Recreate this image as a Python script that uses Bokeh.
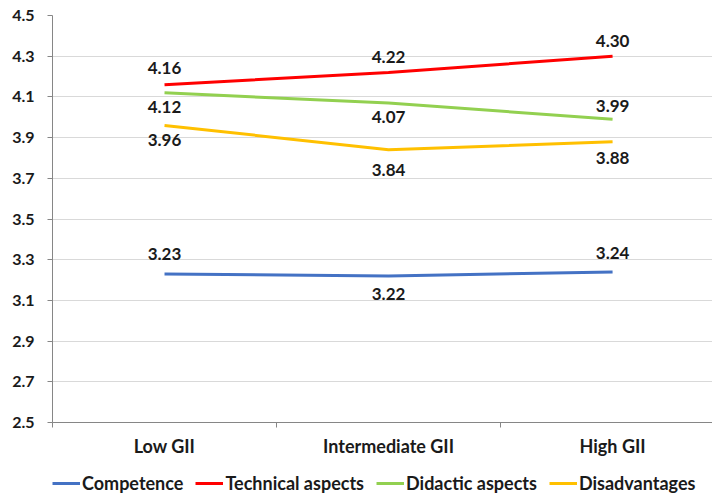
from bokeh.plotting import figure
from bokeh.layouts import column
from bokeh.models import FixedTicker, Legend, LegendItem, ColumnDataSource, Range1d
from bokeh.core.properties import value
from bokeh.embed import file_html
from bokeh.resources import INLINE

categories = ["Low GII", "Intermediate GII", "High GII"]
competence = [3.23, 3.22, 3.24]
technical = [4.16, 4.22, 4.30]
didactic = [4.12, 4.07, 3.99]
disadvantages = [3.96, 3.84, 3.88]
y_ticks = [2.5, 2.7, 2.9, 3.1, 3.3, 3.5, 3.7, 3.9, 4.1, 4.3, 4.5]

names = ["Competence", "Technical aspects", "Didactic aspects", "Disadvantages"]
values = [competence, technical, didactic, disadvantages]

# style
colors = ["#4472C4", "#FF0000", "#92D050", "#FFC000"]
label_offsets = [[-20, 18, -19], [-17, -15, -15], [14, 14, -13], [15, 20, 16]]
FONT = "Lato"
TXT = "#1a1a1a"
AX = "#868686"

xs = [i + 0.5 for i in range(len(categories))]

p = figure(frame_width=660, frame_height=407, output_backend="svg", toolbar_location=None,
           x_range=Range1d(0, 2.946), y_range=Range1d(2.5, 4.5),
           min_border_left=52, min_border_right=0, min_border_top=15,
           min_border_bottom=36)
p.outline_line_color = None
p.background_fill_color = "white"
p.border_fill_color = "white"

p.xgrid.visible = False
p.ygrid.grid_line_color = "#d9d9d9"
p.ygrid.grid_line_width = 1

p.yaxis.ticker = FixedTicker(ticks=y_ticks, minor_ticks=[])
p.yaxis.axis_line_color = AX
p.yaxis.major_tick_line_color = AX
p.yaxis.major_tick_out = 5
p.yaxis.major_tick_in = 0
p.yaxis.minor_tick_line_color = None
p.yaxis.major_label_standoff = 13
p.yaxis.major_label_text_font = FONT
p.yaxis.major_label_text_font_style = "bold"
p.yaxis.major_label_text_font_size = "16px"
p.yaxis.major_label_text_color = TXT

p.xaxis.ticker = FixedTicker(ticks=xs, minor_ticks=[i for i in range(len(categories) + 1)])
p.xaxis.major_label_overrides = {x: c for x, c in zip(xs, categories)}
p.xaxis.axis_line_color = AX
p.xaxis.major_tick_line_color = None
p.xaxis.major_tick_out = 0
p.xaxis.major_tick_in = 0
p.xaxis.minor_tick_line_color = AX
p.xaxis.minor_tick_out = 5
p.xaxis.minor_tick_in = 0
p.xaxis.major_label_standoff = 7
p.xaxis.major_label_text_font = FONT
p.xaxis.major_label_text_font_style = "bold"
p.xaxis.major_label_text_font_size = "18px"
p.xaxis.major_label_text_color = TXT

for name, vals, col, offs in zip(names, values, colors, label_offsets):
    src = ColumnDataSource(dict(x=xs, y=vals, lab=["%.2f" % v for v in vals], off=offs))
    p.line("x", "y", source=src, line_color=col, line_width=3)
    p.text("x", "y", text="lab", source=src, y_offset="off",
           text_align="center", text_baseline="middle",
           text_font=value(FONT), text_font_style="bold",
           text_font_size="17px", text_color=TXT)

# legend strip below the chart (its frame aligns with the chart's frame)
lf = figure(frame_width=660, height=37, output_backend="svg", toolbar_location=None,
            x_range=Range1d(0, 1), y_range=Range1d(0, 1),
            min_border_left=52, min_border_right=0, min_border_top=0, min_border_bottom=0)
lf.axis.visible = False
lf.grid.visible = False
lf.outline_line_color = None
lf.border_fill_color = "white"
items = []
for name, col in zip(names, colors):
    # proxy line kept outside the visible range; only its legend swatch shows
    r = lf.line(x=[2, 3], y=[2, 3], line_color=col, line_width=3)
    items.append(LegendItem(label=name, renderers=[r]))
legend = Legend(items=items, orientation="horizontal", location=(0, 2),
                border_line_color=None, background_fill_alpha=0,
                label_text_font=FONT, label_text_font_style="bold",
                label_text_font_size="18px", label_text_color=TXT,
                glyph_width=28, glyph_height=20, label_standoff=2, spacing=12,
                padding=0, margin=0)
lf.add_layout(legend)

layout = column(p, lf, spacing=0)
open("out.html", "w").write(file_html(layout, INLINE))
